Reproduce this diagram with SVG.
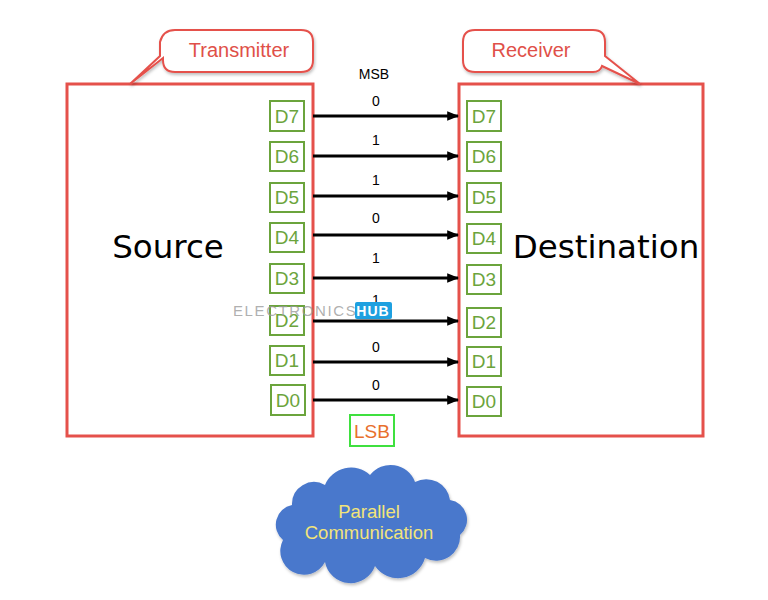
<svg xmlns="http://www.w3.org/2000/svg" width="768" height="600" viewBox="0 0 768 600">
<defs>
<marker id="ah" viewBox="0 0 10 10" refX="9" refY="5" markerWidth="4" markerHeight="4" markerUnits="strokeWidth" orient="auto"><path d="M0,1 L10,5 L0,9 Z" fill="#000"/></marker>
<filter id="sh" x="-10%" y="-10%" width="130%" height="140%"><feDropShadow dx="1" dy="2" stdDeviation="1.5" flood-color="#000" flood-opacity="0.25"/></filter>
</defs>
<style>
.big{fill:none;stroke:#e5514b;stroke-width:3}
.call{fill:#fff;stroke:#e5514b;stroke-width:2}
.ct{font-family:"Liberation Sans",Arial,sans-serif;font-size:20px;fill:#e05048;text-anchor:middle}
.db rect{fill:#fff;stroke:#6ba43c;stroke-width:2}
.db text{font-family:"Liberation Sans",Arial,sans-serif;font-size:19px;fill:#6ba43c;text-anchor:middle}
.title{font-family:"DejaVu Sans",Verdana,sans-serif;font-size:32.5px;fill:#000;text-anchor:middle}
.bit{font-family:"Liberation Sans",Arial,sans-serif;font-size:14px;fill:#000;text-anchor:middle}
.wire{stroke:#000;stroke-width:3;fill:none;marker-end:url(#ah)}
</style>
<rect width="768" height="600" fill="#fff"/>

<g id="source">
<rect class="big" x="67" y="84" width="246" height="352"/>
<text class="title" x="168" y="258">Source</text>
</g>
<g id="destination">
<rect class="big" x="459" y="84" width="244" height="352"/>
<text class="title" x="606" y="258">Destination</text>
</g>

<g id="transmitter">
<path class="call" filter="url(#sh)" d="M175,30 H301 Q313,30 313,42 V60 Q313,72 301,72 H175 Q163,72 163,60 V58 L130,84 L160,56 V42 Q163,30 175,30 Z"/>
<text class="ct" x="239" y="57">Transmitter</text>
</g>
<g id="receiver">
<path class="call" filter="url(#sh)" d="M475,30 H593 Q605,30 605,42 V56 L640,84 L602,66 Q600,72 593,72 H475 Q463,72 463,60 V42 Q463,30 475,30 Z"/>
<text class="ct" x="531" y="57">Receiver</text>
</g>

<g id="tx-bits" class="db">
<rect x="270" y="101" width="34" height="30"/><text x="287" y="123">D7</text>
<rect x="270" y="142" width="34" height="29"/><text x="287" y="163">D6</text>
<rect x="270" y="183" width="34" height="29"/><text x="287" y="204">D5</text>
<rect x="270" y="223" width="34" height="29"/><text x="287" y="244">D4</text>
<rect x="270" y="264" width="34" height="29"/><text x="287" y="285">D3</text>
<rect x="270" y="306" width="34" height="29"/><text x="287" y="327">D2</text>
<rect x="270" y="346" width="34" height="29"/><text x="287" y="367">D1</text>
<rect x="271" y="385" width="34" height="30"/><text x="288" y="407">D0</text>
</g>
<g id="rx-bits" class="db">
<rect x="467" y="101" width="34" height="30"/><text x="484" y="123">D7</text>
<rect x="467" y="142" width="34" height="29"/><text x="484" y="163">D6</text>
<rect x="467" y="183" width="34" height="29"/><text x="484" y="204">D5</text>
<rect x="467" y="224" width="34" height="29"/><text x="484" y="245">D4</text>
<rect x="467" y="265" width="34" height="29"/><text x="484" y="286">D3</text>
<rect x="467" y="308" width="34" height="29"/><text x="484" y="329">D2</text>
<rect x="467" y="347" width="34" height="29"/><text x="484" y="368">D1</text>
<rect x="467" y="387" width="34" height="29"/><text x="484" y="408">D0</text>
</g>

<g id="connectors">
<line class="wire" x1="313" y1="116" x2="458" y2="116"/>
<line class="wire" x1="313" y1="156" x2="458" y2="156"/>
<line class="wire" x1="313" y1="196" x2="458" y2="196"/>
<line class="wire" x1="313" y1="235" x2="458" y2="235"/>
<line class="wire" x1="313" y1="278" x2="458" y2="278"/>
<line class="wire" x1="313" y1="321" x2="458" y2="321"/>
<line class="wire" x1="313" y1="362" x2="458" y2="362"/>
<line class="wire" x1="313" y1="400" x2="458" y2="400"/>
</g>

<g id="bit-labels">
<text class="bit" x="374" y="79">MSB</text>
<text class="bit" x="376" y="106">0</text>
<text class="bit" x="376" y="145">1</text>
<text class="bit" x="376" y="185">1</text>
<text class="bit" x="376" y="223">0</text>
<text class="bit" x="376" y="263">1</text>
<text class="bit" x="376" y="305">1</text>
<text class="bit" x="376" y="352">0</text>
<text class="bit" x="376" y="390">0</text>
</g>

<g id="watermark">
<text x="233" y="316" font-family="'Liberation Sans',Arial,sans-serif" font-size="15" letter-spacing="1.6" fill="#9a9a9a" fill-opacity="0.8">ELECTRONICS</text>
<rect x="355" y="302" width="37" height="17" rx="2" fill="#1ea0e0"/>
<text x="373" y="316" font-family="'Liberation Sans',Arial,sans-serif" font-size="14" font-weight="bold" letter-spacing="1" fill="#fff" text-anchor="middle">HUB</text>
</g>

<g id="lsb">
<rect x="350" y="415" width="44" height="31" fill="#fff" stroke="#3fe03f" stroke-width="2"/>
<text x="372" y="438" font-family="'Liberation Sans',Arial,sans-serif" font-size="19" fill="#e8702c" text-anchor="middle">LSB</text>
</g>

<g id="cloud">
<path filter="url(#sh)" fill="#4a78cc" d="M292,505 A22,22 0 0 1 325,485 A28,28 0 0 1 370,475 A26,26 0 0 1 415,482 A24,24 0 0 1 450,500 A20,20 0 0 1 460,535 A24,24 0 0 1 425,558 A28,28 0 0 1 375,566 A26,26 0 0 1 325,562 A22,22 0 0 1 283,540 A20,20 0 0 1 292,505 Z"/>
<text x="369" y="518" font-family="'Liberation Sans',Arial,sans-serif" font-size="18.5" fill="#f2e47a" text-anchor="middle">Parallel</text>
<text x="369" y="539" font-family="'Liberation Sans',Arial,sans-serif" font-size="18.5" fill="#f2e47a" text-anchor="middle">Communication</text>
</g>
</svg>
